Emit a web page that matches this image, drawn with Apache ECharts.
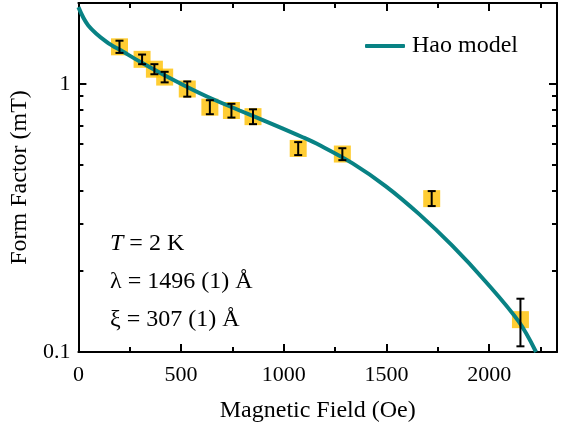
<!DOCTYPE html>
<html>
<head>
<meta charset="utf-8">
<script src="https://cdn.jsdelivr.net/npm/echarts@6/dist/echarts.min.js"></script>
<style>html,body{margin:0;padding:0;background:#fff}#c{width:566px;height:428px}</style>
</head>
<body>
<div id="c"></div>
<script>
// Data
var fieldOe    = [200, 310, 370, 420, 530, 640, 745, 850, 1070, 1285, 1720, 2152];
var formFactor = [1.373, 1.233, 1.133, 1.059, 0.956, 0.818, 0.795, 0.754, 0.574, 0.547, 0.373, 0.132];
var errLow     = [1.303, 1.183, 1.085, 1.012, 0.895, 0.770, 0.748, 0.707, 0.542, 0.519, 0.350, 0.105];
var errHigh    = [1.447, 1.285, 1.183, 1.108, 1.020, 0.868, 0.842, 0.803, 0.606, 0.575, 0.398, 0.158];

var modelX = [0, 48, 137, 218, 300, 461, 623, 785, 947, 1092, 1173, 1335, 1497, 1659, 1820, 1982, 2144, 2228];
var modelY = [1.93, 1.65, 1.432, 1.316, 1.209, 1.035, 0.898, 0.795, 0.706, 0.632, 0.591, 0.505, 0.4147, 0.3266, 0.2491, 0.1832, 0.1297, 0.100];

var xMajor = [0, 500, 1000, 1500, 2000];
var xMinor = [250, 750, 1250, 1750, 2250];
var yMajor = [0.1, 1];
var yMinor = [0.2, 0.3, 0.4, 0.5, 0.6, 0.7, 0.8, 0.9, 2];
var xMax = 2330, yMin = 0.1, yMax = 2;

var FONT = '"Liberation Serif", "Times New Roman", serif';
var TEAL = '#088284', GOLD = '#FFC000';

function xAx(pos, ticks, len, labels, line) {
  return {
    type: 'value', position: pos, min: 0, max: xMax,
    splitLine: {show: false},
    axisLine: {show: line, onZero: false, lineStyle: {color: '#000', width: 2}},
    axisTick: {show: true, inside: true, length: len, customValues: ticks, lineStyle: {color: '#000', width: 2}},
    axisLabel: labels ? {show: true, customValues: ticks, fontFamily: FONT, fontSize: 22, color: '#000', margin: 12,
      formatter: function (v) { return String(v); }} : {show: false},
    name: labels ? 'Magnetic Field (Oe)' : '',
    nameLocation: 'middle', nameGap: 47,
    nameTextStyle: {fontFamily: FONT, fontSize: 24, color: '#000'}
  };
}
function yAx(pos, ticks, len, labels, line) {
  return {
    type: 'log', logBase: 10, position: pos, min: yMin, max: yMax,
    splitLine: {show: false},
    axisLine: {show: line, onZero: false, lineStyle: {color: '#000', width: 2}},
    axisTick: {show: true, inside: true, length: len, customValues: ticks, lineStyle: {color: '#000', width: 2}},
    axisLabel: labels ? {show: true, customValues: ticks, fontFamily: FONT, fontSize: 22, color: '#000', margin: 8,
      formatter: function (v) { return v < 0.5 ? '0.1' : '1'; }} : {show: false},
    name: labels ? 'Form Factor (mT)' : '',
    nameLocation: 'middle', nameGap: 32, nameRotate: 90,
    nameTextStyle: {fontFamily: FONT, fontSize: 24, color: '#000'}
  };
}

var scatterData = fieldOe.map(function (x, i) { return [x, formFactor[i]]; });
var errData = fieldOe.map(function (x, i) { return [x, errLow[i], errHigh[i]]; });
var modelData = modelX.map(function (x, i) { return [x, modelY[i]]; });

var chart = echarts.init(document.getElementById('c'), null, {renderer: 'canvas'});
chart.setOption({
  animation: false,
  backgroundColor: '#fff',
  grid: {left: 75, right: 9, top: 3, bottom: 73, containLabel: false},
  xAxis: [
    xAx('bottom', xMajor, 8, true, true),
    xAx('bottom', xMinor, 5, false, false),
    xAx('top', xMajor, 8, false, true),
    xAx('top', xMinor, 5, false, false)
  ],
  yAxis: [
    yAx('left', yMajor, 8, true, true),
    yAx('left', yMinor, 5, false, false),
    yAx('right', yMajor, 8, false, true),
    yAx('right', yMinor, 5, false, false)
  ],
  legend: {
    show: true, left: 360, top: 29, itemWidth: 40, itemHeight: 4, itemGap: 10,
    data: [{name: 'Hao model', icon: 'roundRect'}],
    itemStyle: {color: TEAL},
    textStyle: {fontFamily: FONT, fontSize: 24, color: '#000', padding: [0, 0, 0, 2]}
  },
  series: [
    {
      name: 'data', type: 'scatter', data: scatterData,
      symbol: 'rect', symbolSize: 17, z: 3,
      itemStyle: {color: GOLD}
    },
    {
      name: 'Hao model', type: 'line', data: modelData, smooth: 0.35,
      showSymbol: false, symbol: 'none', clip: true, z: 4,
      lineStyle: {color: TEAL, width: 4},
      itemStyle: {color: TEAL}
    },
    {
      name: 'err', type: 'custom', data: errData, z: 5,
      renderItem: function (params, api) {
        var x = api.value(0);
        var lo = api.coord([x, api.value(1)]);
        var hi = api.coord([x, api.value(2)]);
        var w = 4;
        var st = {stroke: '#000', lineWidth: 2};
        return {
          type: 'group',
          children: [
            {type: 'line', shape: {x1: lo[0], y1: lo[1], x2: hi[0], y2: hi[1]}, style: st},
            {type: 'line', shape: {x1: lo[0] - w, y1: lo[1], x2: lo[0] + w, y2: lo[1]}, style: st},
            {type: 'line', shape: {x1: hi[0] - w, y1: hi[1], x2: hi[0] + w, y2: hi[1]}, style: st}
          ]
        };
      }
    }
  ],
  graphic: [
    {type: 'text', left: 110, top: 232, style: {
      rich: {it: {fontFamily: FONT, fontSize: 24, fontStyle: 'italic', fill: '#000'},
             n: {fontFamily: FONT, fontSize: 24, fill: '#000'}},
      text: '{it|T}{n| = 2 K}'}},
    {type: 'text', left: 110, top: 270, style: {text: 'λ = 1496 (1) Å', fontFamily: FONT, fontSize: 24, fill: '#000'}},
    {type: 'text', left: 110, top: 308, style: {text: 'ξ = 307 (1) Å', fontFamily: FONT, fontSize: 24, fill: '#000'}}
  ]
});
</script>
</body>
</html>
